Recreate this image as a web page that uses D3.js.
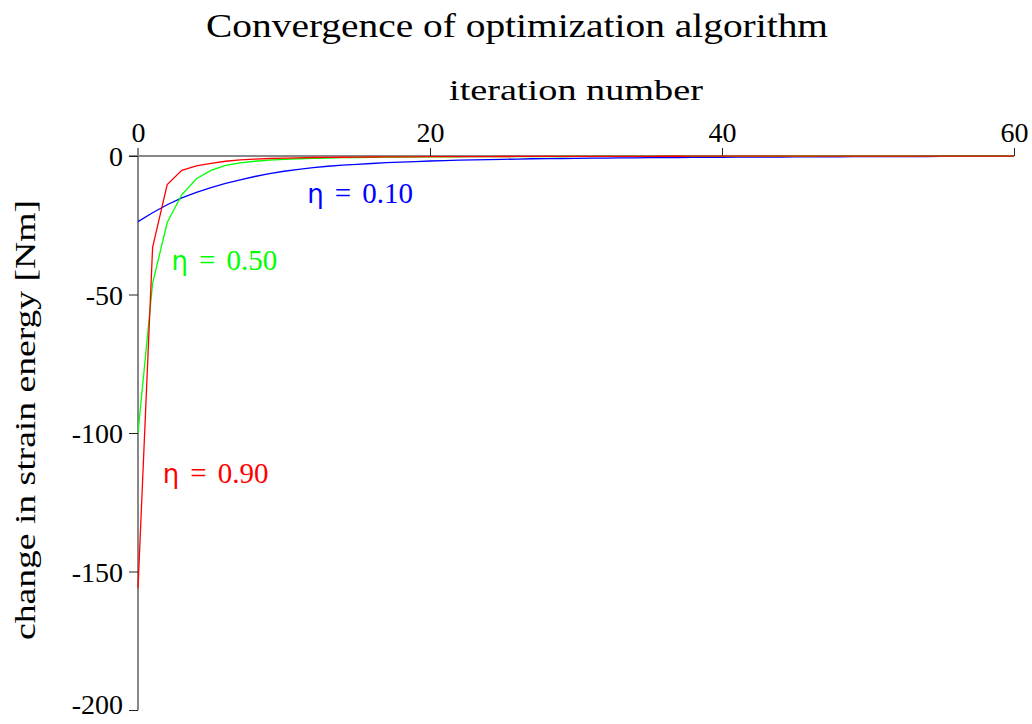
<!DOCTYPE html>
<html lang="en">
<head>
    <meta charset="UTF-8">
    <title>Convergence of optimization algorithm</title>
    <style>
        body { margin: 0; background: #fff; }
        text { font-family: "Liberation Serif", serif; }
    </style>
</head>
<body>
    <script src="https://d3js.org/d3.v7.min.js"></script>
    <div id="chart"></div>
    <script>
    // iteration numbers and change in strain energy per step
    const iterations = d3.range(0, 61)

    const eta090 = [-156, -33, -10.3, -5.2, -3.6, -2.7, -1.9, -1.4, -1.1, -0.9,
        -0.75, -0.65, -0.55, -0.5, -0.45, -0.4, -0.36, -0.33, -0.3, -0.28,
        -0.26, -0.24, -0.22, -0.2, -0.19, -0.18, -0.17, -0.16, -0.15, -0.14,
        -0.13, -0.12, -0.12, -0.11, -0.1, -0.1, -0.09, -0.09, -0.08, -0.08,
        -0.07, -0.07, -0.07, -0.06, -0.06, -0.06, -0.05, -0.05, -0.05, -0.05,
        -0.04, -0.04, -0.04, -0.04, -0.04, -0.03, -0.03, -0.03, -0.03, -0.03, -0.03]

    const eta050 = [-100, -46, -24, -14, -8.2, -5.2, -3.4, -2.5, -1.9, -1.5,
        -1.2, -1.0, -0.85, -0.72, -0.62, -0.54, -0.48, -0.43, -0.39, -0.35,
        -0.32, -0.3, -0.28, -0.26, -0.24, -0.22, -0.21, -0.2, -0.19, -0.18,
        -0.17, -0.16, -0.15, -0.14, -0.14, -0.13, -0.13, -0.12, -0.12, -0.11,
        -0.11, -0.1, -0.1, -0.1, -0.09, -0.09, -0.09, -0.08, -0.08, -0.08,
        -0.08, -0.07, -0.07, -0.07, -0.07, -0.07, -0.06, -0.06, -0.06, -0.06, -0.06]

    const eta010 = [-23.7, -20.5, -17.6, -15.1, -13.1, -11.4, -9.9, -8.6, -7.4, -6.4,
        -5.5, -4.8, -4.2, -3.7, -3.3, -3.0, -2.7, -2.4, -2.2, -2.0,
        -1.8, -1.65, -1.5, -1.4, -1.3, -1.2, -1.1, -1.0, -0.95, -0.9,
        -0.85, -0.8, -0.75, -0.7, -0.66, -0.62, -0.58, -0.55, -0.52, -0.49,
        -0.46, -0.43, -0.4, -0.38, -0.36, -0.34, -0.32, -0.3, -0.28, -0.26,
        -0.24, -0.22, -0.2, -0.19, -0.18, -0.17, -0.16, -0.15, -0.14, -0.13, -0.12]

    const xTicks = [0, 20, 40, 60]
    const yTicks = [0, -50, -100, -150, -200]

    // series: name, values, colour, label anchor (iteration, value)
    const series = [
        { name: "0.10", values: eta010, color: "#0000ff", at: [11.6, -17.0] },
        { name: "0.50", values: eta050, color: "#00ff00", at: [2.3, -41.2] },
        { name: "0.90", values: eta090, color: "#ff0000", at: [1.7, -118] }
    ]

    const W = 1032, H = 724
    const PLOT = { LEFT: 138, RIGHT: 1014, TOP: 156, BOTTOM: 710 }

    const svg = d3.select("#chart")
        .append("svg")
        .attr("width", W)
        .attr("height", H)

    const x = d3.scaleLinear().domain([0, 60]).range([PLOT.LEFT, PLOT.RIGHT])
    const y = d3.scaleLinear().domain([-200, 0]).range([PLOT.BOTTOM, PLOT.TOP])

    // plain hyphen minus like the original
    const fmt = d => String(d)

    // title
    svg.append("text")
        .attr("x", 517).attr("y", 37)
        .attr("text-anchor", "middle")
        .attr("textLength", 622).attr("lengthAdjust", "spacingAndGlyphs")
        .style("font-size", "33px")
        .text("Convergence of optimization algorithm")

    // x axis (on top, at y = 0)
    const xAxis = svg.append("g")
        .attr("transform", `translate(0,${y(0)})`)
        .call(d3.axisTop(x).tickValues(xTicks).tickFormat(fmt).tickSize(8).tickPadding(6).tickSizeOuter(0))
    xAxis.select(".domain").attr("stroke", "#888").attr("stroke-width", 2)
        .attr("d", `M${PLOT.LEFT - 9},0H${PLOT.RIGHT}`)
    xAxis.selectAll(".tick line").attr("stroke", "#222")
    xAxis.selectAll(".tick text")
        .style("font-family", "Liberation Serif").style("font-size", "28px").attr("fill", "#000")

    svg.append("text")
        .attr("x", (PLOT.LEFT + PLOT.RIGHT) / 2).attr("y", 100)
        .attr("text-anchor", "middle")
        .attr("textLength", 254).attr("lengthAdjust", "spacingAndGlyphs")
        .style("font-size", "30px")
        .text("iteration number")

    // y axis
    const yAxis = svg.append("g")
        .attr("transform", `translate(${x(0)},0)`)
        .call(d3.axisLeft(y).tickValues(yTicks).tickFormat(fmt).tickSize(9).tickPadding(6).tickSizeOuter(0))
    yAxis.select(".domain").attr("stroke", "#888").attr("stroke-width", 2)
        .attr("d", `M0,${PLOT.TOP - 8}V${PLOT.BOTTOM}`)
    yAxis.selectAll(".tick line").attr("stroke", "#222")
    yAxis.selectAll(".tick text")
        .attr("dy", d => d === -200 ? "0.12em" : "0.34em")
        .style("font-family", "Liberation Serif").style("font-size", "28px").attr("fill", "#000")

    svg.append("text")
        .attr("transform", `translate(35,${(PLOT.TOP + PLOT.BOTTOM) / 2 - 13}) rotate(-90)`)
        .attr("text-anchor", "middle")
        .attr("textLength", 440).attr("lengthAdjust", "spacingAndGlyphs")
        .style("font-size", "30px")
        .text("change in strain energy [Nm]")

    // curves
    const line = d3.line()
        .x((d, i) => x(iterations[i]))
        .y(d => y(d))

    series.forEach(s => {
        svg.append("path")
            .datum(s.values)
            .attr("d", line)
            .attr("fill", "none")
            .attr("stroke", s.color)
            .attr("stroke-width", 1.3)
    })

    // labels: eta = value, with wide math spacing around "="
    series.forEach(s => {
        const t = svg.append("text")
            .attr("x", x(s.at[0])).attr("y", y(s.at[1]))
            .attr("fill", s.color)
            .style("font-size", "29px")
        t.append("tspan").style("font-family", "DejaVu Sans").style("font-size", "26px").text("η")
        t.append("tspan").attr("dx", 11).text("=")
        t.append("tspan").attr("dx", 11).text(s.name)
    })
    </script>
</body>
</html>
